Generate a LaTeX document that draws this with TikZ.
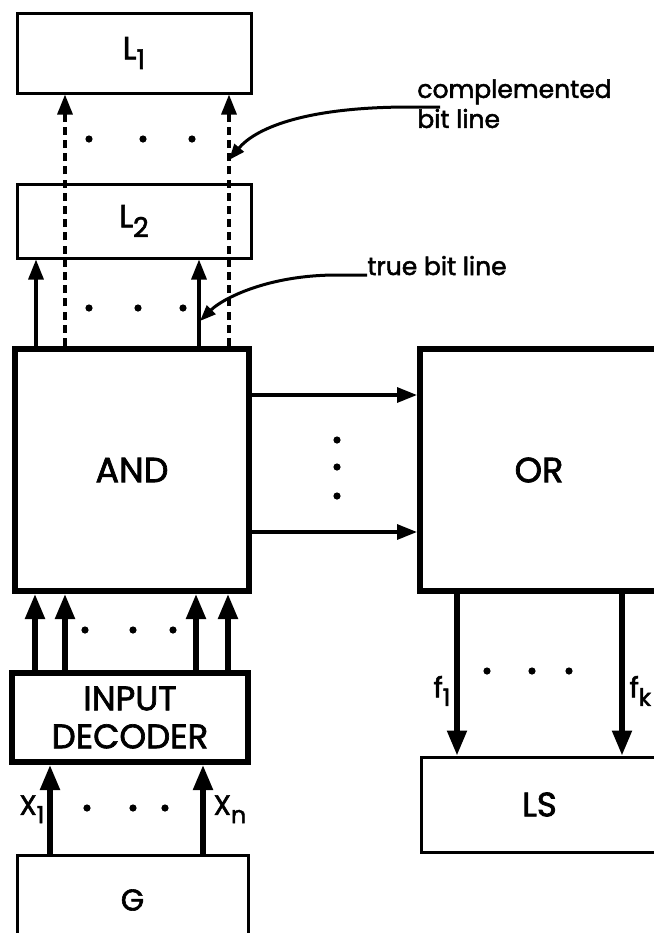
\documentclass[tikz,border=0pt]{standalone}
\usepackage{fontspec}
\setmainfont{Poppins}[FakeBold=2]
\usetikzlibrary{arrows.meta,positioning,calc}
\newcommand{\lowidx}[1]{\raisebox{-0.55ex}{\scalebox{0.85}{#1}}}

\begin{document}
\begin{tikzpicture}[x=0.5pt,y=-0.5pt,
    box/.style={draw,line width=1.5pt,inner sep=0pt,align=center},
    heavybox/.style={box,line width=3pt},
    bitline/.style={line width=1.6pt,-{Triangle[length=10pt,width=7.5pt]}},
    compline/.style={bitline,dash pattern=on 4pt off 2.6pt},
    busline/.style={line width=2.6pt,-{Triangle[length=12.5pt,width=9.5pt]}},
    leader/.style={line width=1.5pt,-{Triangle[length=8pt,width=6pt]}},
    lbl/.style={inner sep=0pt,align=left,font=\fontsize{12.5}{15}\selectfont}]
        \useasboundingbox (0,0) rectangle (654,933);
        \clip (0,0) rectangle (654,933);

        % storage levels on top of the AND plane
        \node[box,minimum width=117pt,minimum height=40pt,font=\fontsize{16}{18}\selectfont]
          (l1) at (134,53) {L\lowidx{1}};
        \node[box,minimum width=117pt,minimum height=37pt,font=\fontsize{16}{18}\selectfont]
          (l2) at (134,221) {L\lowidx{2}};

        % the two planes
        \node[heavybox,minimum width=117pt,minimum height=121pt,font=\fontsize{17.5}{20}\selectfont]
          (andp) at (132,470) {AND};
        \node[heavybox,minimum width=119pt,minimum height=121pt,font=\fontsize{17.5}{20}\selectfont]
          (orp) at (539,470) {OR};

        % decoder, generator and output register
        \node[heavybox,minimum width=118pt,minimum height=44.5pt,font=\fontsize{17}{19}\selectfont]
          (dec) at (130,717.5) {INPUT\\DECODER};
        \node[box,minimum width=115.5pt,minimum height=45pt,font=\fontsize{15}{17}\selectfont]
          (gen) at (132.5,900) {G};
        \node[box,minimum width=118.5pt,minimum height=47.5pt,font=\fontsize{17}{19}\selectfont]
          (lsreg) at (539.5,804.5) {LS};

        % complemented bit lines (dashed, through L2)
        \draw[compline] ([xshift=-33.5pt]andp.north) coordinate (cl1) -- (cl1 |- l1.south);
        \draw[compline] ([xshift=48.5pt]andp.north) coordinate (cl2) -- (cl2 |- l1.south);
        % true bit lines
        \draw[bitline] ([xshift=-48pt]andp.north) -- ([xshift=-48pt]andp.north |- l2.south);
        \draw[bitline] ([xshift=33.5pt]andp.north) -- ([xshift=33.5pt]andp.north |- l2.south);

        % decoder outputs into AND
        \foreach \dx in {-47.5,-32.5,33,49}
          \draw[busline] ([xshift=\dx pt]dec.north) -- ([xshift=\dx pt]dec.north |- andp.south);

        % inputs from G
        \draw[busline] ([xshift=-40pt]dec.south |- gen.north) -- ([xshift=-40pt]dec.south)
          node[midway,left,inner sep=1.5pt,font=\fontsize{14}{16}\selectfont] (xone) {X\lowidx{1}};
        \draw[busline] ([xshift=36.5pt]dec.south |- gen.north) -- ([xshift=36.5pt]dec.south)
          node[midway,right,inner sep=4pt,font=\fontsize{14}{16}\selectfont] (xenn) {X\lowidx{n}};

        % product terms AND -> OR
        \draw[bitline] ([yshift=37.5pt]andp.east) -- ([yshift=37.5pt]andp.east -| orp.west);
        \draw[bitline] ([yshift=-31pt]andp.east) -- ([yshift=-31pt]andp.east -| orp.west);

        % outputs OR -> LS
        \draw[busline] ([xshift=-41pt]orp.south) -- ([xshift=-41pt]orp.south |- lsreg.north)
          node[pos=0.6,left,inner sep=2pt,font=\fontsize{14}{16}\selectfont] (fone) {f\lowidx{1}};
        \draw[busline] ([xshift=41.5pt]orp.south) -- ([xshift=41.5pt]orp.south |- lsreg.north)
          node[pos=0.6,right,inner sep=2.5pt,font=\fontsize{14}{16}\selectfont] (fkay) {f\lowidx{k}};

        % ellipsis dots
        \foreach \x in {89,143,192} \fill (\x,139) circle[radius=1.8pt];
        \foreach \x in {89,138,183} \fill (\x,308) circle[radius=1.8pt];
        \foreach \y in {440,467,496} \fill (337,\y) circle[radius=1.8pt];
        \foreach \x in {85,133,173} \fill (\x,630) circle[radius=1.8pt];
        \foreach \x in {87,133,165} \fill (\x,808) circle[radius=1.8pt];
        \foreach \x in {487,532,569} \fill (\x,671) circle[radius=1.8pt];

        % callouts
        \node[lbl,anchor=north west] (cbl) at (417,79) {complemented\\bit line};
        \node[lbl,anchor=base west] (tbl) at (367,275) {true bit line};
        \coordinate (ctip) at (229,160);
        \coordinate (ttip) at (200,321);
        \draw[leader] ($(cbl.north west)+(23,28)$) -- ++(-30,0)
          .. controls +(-110,0) and +(25,-30) .. (ctip);
        \draw[leader] (tbl.base west) -- ++(-30,0)
          .. controls +(-70,0) and +(22,-22) .. (ttip);
      \end{tikzpicture}
\end{document}
